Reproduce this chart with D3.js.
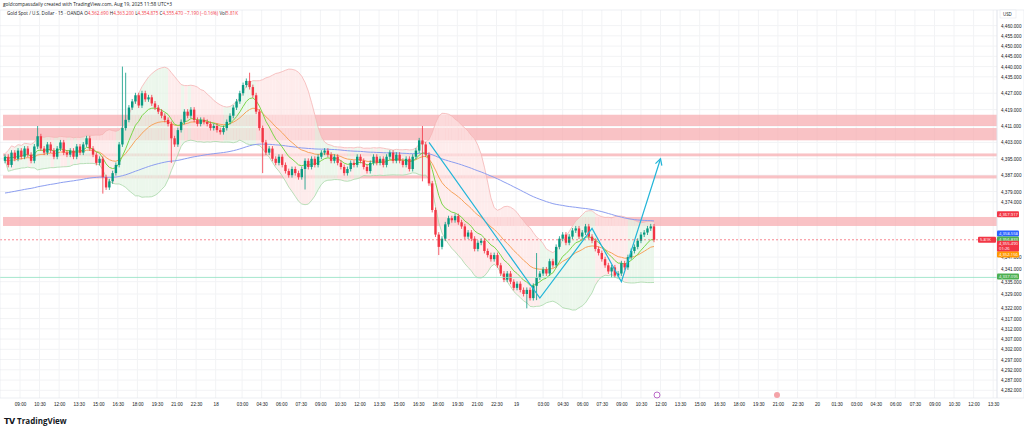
<!DOCTYPE html><html><head><meta charset="utf-8">
<script src="https://cdn.jsdelivr.net/npm/d3@7"></script>
<style>body{margin:0;background:#fff;font-family:"Open Sans",sans-serif}</style></head><body>
<svg id="c" width="1024" height="428"></svg>
<script>
const closes=[4396,4392,4398,4395,4399,4396,4400,4397,4394,4401,
4406,4400,4398,4402,4399,4396,4400,4403,4398,4397,
4399,4396,4401,4398,4402,4405,4400,4397,4393,4395,
4386,4381,4384,4388,4392,4402,4410,4414,4420,4423,
4426,4421,4427,4424,4425,4422,4420,4418,4416,4414,
4412,4405,4402,4409,4413,4418,4416,4419,4414,4412,
4414,4413,4412,4410,4411,4409,4408,4410,4413,4416,
4420,4423,4427,4431,4433,4430,4426,4418,4410,4403,
4398,4400,4395,4393,4396,4392,4389,4387,4390,4388,
4386,4390,4394,4391,4395,4392,4396,4398,4399,4397,
4394,4396,4393,4391,4388,4390,4393,4392,4396,4394,
4391,4389,4393,4396,4393,4395,4392,4396,4398,4394,
4397,4394,4392,4395,4390,4396,4399,4404,4402,4397,
4383,4370,4358,4352,4356,4363,4366,4365,4367,4364,
4362,4357,4359,4356,4351,4354,4355,4350,4348,4346,
4348,4343,4339,4336,4339,4335,4332,4334,4331,4329,
4331,4327,4333,4337,4339,4341,4339,4345,4343,4352,
4356,4358,4354,4357,4360,4361,4357,4359,4362,4357,
4355,4351,4349,4346,4343,4340,4342,4338,4339,4344,
4342,4347,4350,4352,4355,4358,4359,4361,4362,4355.47];
const firstOpen=4394;
const spikes=[[10,4411,null],[30,null,4378],[36,4440,null],[37,4437,null],[51,null,4393],[75,4437,null],[79,null,4388],[92,null,4380],[128,4411,4384],[133,null,4348],[160,null,4322],[163,4349,4326],[186,null,4337]];
const zones=[[4416.5,4411],[4410,4404],[4397.6,4396.2],[4386.9,4385.4],[4366.6,4362.2]];
const tickVals=[4282,4287,4292,4297,4302,4307,4312,4317,4322,4329,4335,4341,4347,4374,4379,4387,4395,4403,4411,4419,4427,4435,4440,4445,4450,4455,4460];
const dayA=["09:00","10:30","12:00","13:30","15:00","16:30","18:00","19:30","21:00","22:30"];
const dayB=["03:00","04:30","06:00","07:30","09:00","10:30","12:00","13:30","15:00","16:30","18:00","19:30","21:00","22:30"];
const dayC=["01:30","03:00","04:30","06:00","07:30","09:00","10:30","12:00","13:30"];
const trend=[[130,4403],[164,4327],[180,4361],[189,4335],[201,4395]];

const svg=d3.select("#c");
const x=d3.scaleLinear().domain([0,199]).range([5,654]);
const y=d3.scaleLinear().domain([4411,4329]).range([126,294]);
const R=997,B=398;
const xt=[];dayA.forEach((l,k)=>xt.push([4.6+6*k,l]));xt.push([64.6,"18"]);
dayB.forEach((l,k)=>xt.push([72.7+6*k,l]));xt.push([156.7,"19"]);
dayB.forEach((l,k)=>xt.push([165+6*k,l]));xt.push([249,"20"]);
dayC.forEach((l,k)=>xt.push([255+6*k,l]));
const g=svg.append("g");
g.selectAll(".vg").data(xt).join("line").attr("x1",d=>x(d[0])).attr("x2",d=>x(d[0])).attr("y1",10).attr("y2",B).attr("stroke","#f2f3f5");
g.selectAll(".hg").data(tickVals).join("line").attr("x1",0).attr("x2",R).attr("y1",d=>y(d)).attr("y2",d=>y(d)).attr("stroke","#f2f3f5");
g.selectAll(".z").data(zones).join("rect").attr("x",3).attr("width",R-3).attr("y",d=>y(d[0])).attr("height",d=>y(d[1])-y(d[0])).attr("fill","#f7a8ad").attr("opacity",0.7);
const c=closes.map((v,i)=>{const o=i?closes[i-1]:firstOpen;return{i,o,c:v,h:Math.max(o,v)+1.2,l:Math.min(o,v)-1.2};});
spikes.forEach(([i,h,l])=>{if(h)c[i].h=h;if(l)c[i].l=l;});
const N=20,bb=[];
c.forEach((d,i)=>{const s=closes.slice(Math.max(0,i-N+1),i+1);const m=d3.mean(s),sd=Math.sqrt(d3.mean(s,v=>(v-m)**2));bb.push({i,m,u:m+1.8*sd+1.5,l:m-1.8*sd-1.5,up:d.c>=m});});
function ema(n,seed){let e=seed;return closes.map(v=>e=e+(2/(n+1))*(v-e));}
const e9=ema(9,4396),e21=ema(21,4394),e100=ema(120,4378);
for(let i=1;i<200;i++){const a=bb[i-1],b=bb[i];
 g.append("path").attr("d",`M${x(i-1)},${y(a.u)}L${x(i)},${y(b.u)}L${x(i)},${y(b.l)}L${x(i-1)},${y(a.l)}Z`).attr("fill",b.up?"#e4f4e4":"#fde4e4").attr("opacity",0.7);}
const ln=(arr,col,w)=>g.append("path").datum(arr).attr("fill","none").attr("stroke",col).attr("stroke-width",w).attr("d",d3.line().x((d,i)=>x(i)).y(d=>y(d)));
ln(bb.map(d=>d.u),"#f5b5b5",0.8);ln(bb.map(d=>d.l),"#a8d8a8",0.8);
ln(e100,"#8c9ef0",1);ln(e21,"#f7a35c",1);ln(e9,"#7bd64a",1);
const up="#089981",dn="#f23645";
g.selectAll(".w").data(c).join("line").attr("x1",d=>x(d.i)).attr("x2",d=>x(d.i)).attr("y1",d=>y(d.h)).attr("y2",d=>y(d.l)).attr("stroke",d=>d.c>=d.o?up:dn).attr("stroke-width",0.8);
g.selectAll(".b").data(c).join("rect").attr("x",d=>x(d.i)-1.2).attr("width",2.4).attr("y",d=>y(Math.max(d.o,d.c))).attr("height",d=>Math.max(1,Math.abs(y(d.o)-y(d.c)))).attr("fill",d=>d.c>=d.o?up:dn);
g.append("line").attr("x1",0).attr("x2",R).attr("y1",y(4337.095)).attr("y2",y(4337.095)).attr("stroke","#8fe0c0").attr("stroke-width",0.8);
g.append("line").attr("x1",0).attr("x2",R).attr("y1",y(4355.47)).attr("y2",y(4355.47)).attr("stroke",dn).attr("stroke-dasharray","2,2").attr("stroke-width",0.6);
g.append("path").datum(trend).attr("fill","none").attr("stroke","#22b5d8").attr("stroke-width",1.2).attr("d",d3.line().x(d=>x(d[0])).y(d=>y(d[1])));
const t=trend[4],p=trend[3];const ax=x(t[0]),ay=y(t[1]),ang=Math.atan2(ay-y(p[1]),ax-x(p[0]));
g.append("path").attr("d",`M${ax-7*Math.cos(ang-0.5)},${ay-7*Math.sin(ang-0.5)}L${ax},${ay}L${ax-7*Math.cos(ang+0.5)},${ay-7*Math.sin(ang+0.5)}`).attr("fill","none").attr("stroke","#22b5d8").attr("stroke-width",1.2);
g.append("rect").attr("x",0).attr("y",10).attr("width",1024).attr("height",B-10).attr("fill","none").attr("stroke","#e0e3eb").attr("stroke-width",0.6);
g.append("line").attr("x1",R).attr("x2",R).attr("y1",10).attr("y2",B).attr("stroke","#e0e3eb");
const fmt=d3.format(",.3f");
svg.append("g").attr("transform",`translate(${R},0)`).call(d3.axisRight(y).tickValues(tickVals).tickSize(0).tickFormat(fmt)).call(a=>a.select(".domain").remove()).selectAll("text").attr("font-size",4.6).attr("fill","#131722").attr("x",4);
svg.append("g").attr("transform",`translate(0,${B})`).call(d3.axisBottom(x).tickValues(xt.map(d=>d[0])).tickSize(0).tickFormat((d,i)=>xt[i][1])).call(a=>a.select(".domain").remove()).selectAll("text").attr("font-size",4.6).attr("fill","#131722").attr("dy",5);
// price labels, stacked
const labs=[[4367.917,"#f23645","4,367.917",0],[4358.558,"#2962ff","4,358.558",0],[4356.833,"#4caf50","4,356.833",2.5],[4355.49,"#f23645","4,355.490",4],[4352.156,"#ff9800","4,352.156",8],[4337.095,"#4caf50","4,337.095",-1]];
labs.forEach(([v,col,s,off])=>{const yy=y(v)+off;
 svg.append("rect").attr("x",R).attr("y",yy-3).attr("width",22).attr("height",v==4355.49?11:6).attr("fill",col).attr("rx",1);
 svg.append("text").attr("x",R+2).attr("y",yy+1.5).text(s).attr("font-size",4.2).attr("fill","#fff");});
svg.append("text").attr("x",R+2).attr("y",y(4355.49)+4+6.5).text("01:26").attr("font-size",4.2).attr("fill","#fff");
svg.append("rect").attr("x",978).attr("y",y(4355.49)-3).attr("width",18).attr("height",6).attr("fill",dn).attr("rx",1);
svg.append("text").attr("x",980).attr("y",y(4355.49)+1.5).text("5.81K").attr("font-size",4.2).attr("fill","#fff");
svg.append("rect").attr("x",1000).attr("y",10).attr("width",16).attr("height",8).attr("fill","#fff").attr("stroke","#e0e3eb").attr("stroke-width",0.5);
svg.append("text").attr("x",1003).attr("y",16).text("USD").attr("font-size",4.4).attr("fill","#131722");
svg.append("text").attr("x",3).attr("y",6).text("goldcompassdaily created with TradingView.com, Aug 19, 2025 11:58 UTC+3").attr("font-size",4.8).attr("fill","#131722");
const h=svg.append("text").attr("x",7).attr("y",15).attr("font-size",4.6).attr("fill","#131722");
h.append("tspan").text("Gold Spot / U.S. Dollar · 15 · OANDA  O");
[["4,362.690"," H"],["4,363.200"," L"],["4,354.875"," C"],["4,355.470 −7.190 (−0.16%)"," Vol"],["5.81K",""]].forEach(([a,b])=>{h.append("tspan").text(a).attr("fill",dn);if(b)h.append("tspan").text(b);});
svg.append("circle").attr("cx",657).attr("cy",395).attr("r",3).attr("fill","none").attr("stroke","#ab47bc").attr("stroke-width",0.8);
svg.append("circle").attr("cx",777).attr("cy",395).attr("r",3).attr("fill","#f4a3a8");
svg.append("text").attr("x",4).attr("y",424).text("𝗧𝗩 TradingView").attr("font-size",8).attr("font-weight","bold").attr("fill","#131722");
</script></body></html>
